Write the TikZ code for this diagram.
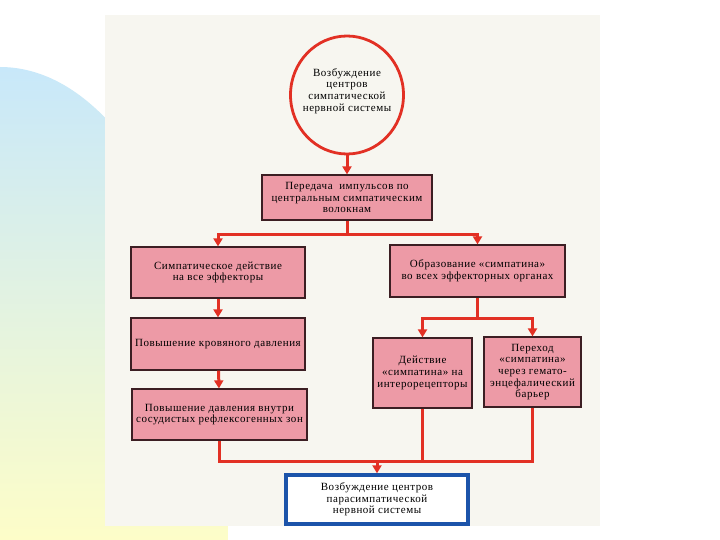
\documentclass[tikz,border=0pt]{standalone}
\usepackage{fontspec}
\setmainfont{Liberation Serif}[LetterSpace=5]
\usepackage{xcolor}
\usetikzlibrary{arrows.meta,positioning,calc,shapes.geometric}
\definecolor{lnred}{RGB}{226,48,36}
\definecolor{boxpink}{RGB}{237,154,166}
\definecolor{boxedge}{RGB}{60,30,35}
\definecolor{finblue}{RGB}{28,84,170}
\definecolor{paper}{RGB}{247,246,240}
\definecolor{bgblue}{RGB}{200,232,250}
\definecolor{bgyell}{RGB}{253,253,200}
\newcommand{\boxfont}{\fontsize{11}{11.6}\selectfont}
\tikzset{
  >={Triangle[length=8pt,width=9pt]},
  box/.style ={rectangle, draw=boxedge, fill=boxpink, line width=1.2pt,
               inner sep=2pt, font=\boxfont, align=center},
  ovl/.style ={ellipse, draw=lnred, fill=paper, line width=2.8pt,
               inner sep=0pt, font=\boxfont, align=center},
  fin/.style ={rectangle, draw=finblue, fill=white, line width=3.4pt,
               inner sep=2pt, font=\boxfont, align=center},
  ln/.style  ={draw=lnred, line width=3pt},
  con/.style ={->, draw=lnred, line width=3pt, color=lnred},
}
\begin{document}
\begin{tikzpicture}[x=1pt,y=-1pt]
\useasboundingbox (0,0) rectangle (720,540);
% --- slide background and the scanned page ---------------------------
\fill[white] (0,0) rectangle (720,540);
\shade[top color=bgblue, bottom color=bgyell]
  (0,67) arc[start angle=-90, end angle=0, x radius=228, y radius=452]
  -- (228,540) -- (0,540) -- cycle;
\fill[paper] (105,15) rectangle (600,526);

% --- nodes ------------------------------------------------------------
\node[ovl, minimum width=113pt, minimum height=118pt] (exc) at (347,95) {};
\node[font=\boxfont, align=center] (exct) at (347,91)
  {Возбуждение\\центров\\симпатической\\нервной системы};
\node[box, minimum width=170pt, minimum height=45pt] (trans) at (347,197.5)
  {Передача\ \ импульсов по\\центральным симпатическим\\волокнам};
\node[box, minimum width=174pt, minimum height=51pt] (symL) at (218,272.5)
  {Симпатическое действие\\на все эффекторы};
\node[box, minimum width=175pt, minimum height=52pt] (formR) at (477.5,271)
  {Образование «симпатина»\\во всех эффекторных органах};
\node[box, minimum width=174pt, minimum height=52pt] (press) at (218,344)
  {Повышение кровяного давления};
\node[box, minimum width=175pt, minimum height=51pt] (zones) at (219.5,414.5)
  {Повышение давления внутри\\сосудистых рефлексогенных зон};
\node[box, minimum width=99pt, minimum height=70pt] (inter) at (422.5,373)
  {Действие\\«симпатина» на\\интерорецепторы};
\node[box, minimum width=97pt, minimum height=70pt] (barr) at (532.5,372)
  {Переход\\«симпатина»\\через гемато-\\энцефалический\\барьер};
\node[fin, minimum width=182pt, minimum height=49pt] (para) at (377,499.5)
  {Возбуждение центров\\парасимпатической\\нервной системы};

% --- junctions --------------------------------------------------------
\coordinate (s1) at (347,234);
\coordinate (s2) at (477.5,318);
\coordinate (j)  at (377,461);

% --- flow -------------------------------------------------------------
\draw[con] (exc) -- (trans);
\draw[ln] (trans) -- (s1);
\draw[con] (s1) -| (symL);
\draw[con] (s1) -| (formR);
\draw[con] (symL) -- (press);
\draw[con] (press) -- (zones);
\draw[ln] (formR) -- (s2);
\draw[con] (s2) -| (inter);
\draw[con] (s2) -| (barr);
\draw[ln] (zones) |- (j);
\draw[ln] (inter) |- (j);
\draw[ln] (barr) |- (j);
\draw[con] (j) -- (para);
\end{tikzpicture}
\end{document}
